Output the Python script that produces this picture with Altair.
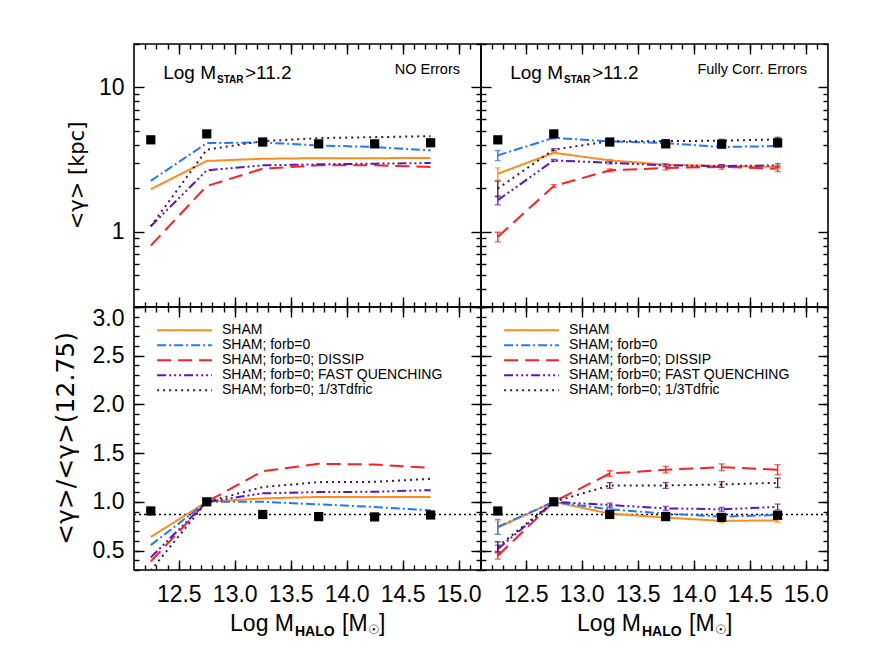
import altair as alt
import pandas as pd
import numpy as np

# ---------------- data ----------------
LOG_MHALO = [12.25, 12.75, 13.25, 13.75, 14.25, 14.75]
SERIES = ["SHAM", "SHAM; forb=0", "SHAM; forb=0; DISSIP",
          "SHAM; forb=0; FAST QUENCHING", "SHAM; forb=0; 1/3Tdfric"]

# top-left: <gamma> [kpc], NO Errors
TL_SHAM = [1.97, 3.09, 3.20, 3.23, 3.23, 3.24]
TL_FORB0 = [2.25, 4.11, 4.15, 3.96, 3.86, 3.66]
TL_DISSIP = [0.80, 2.07, 2.73, 2.88, 2.88, 2.81]
TL_FASTQ = [1.09, 2.66, 2.88, 2.93, 2.96, 2.99]
TL_TDFRIC = [1.09, 3.70, 4.24, 4.45, 4.52, 4.59]
TL_OBS = [4.33, 4.76, 4.18, 4.06, 4.06, 4.13]

# top-right: <gamma> [kpc], Fully Corr. Errors
TR_SHAM = [2.52, 3.52, 3.12, 2.91, 2.85, 2.81]
TR_FORB0 = [3.38, 4.47, 4.22, 4.11, 3.86, 3.92]
TR_DISSIP = [0.92, 2.07, 2.66, 2.76, 2.81, 2.73]
TR_FASTQ = [1.65, 3.12, 3.00, 2.88, 2.85, 2.88]
TR_TDFRIC = [1.99, 3.70, 4.24, 4.24, 4.27, 4.36]
TR_OBS = [4.33, 4.76, 4.18, 4.06, 4.04, 4.13]
TR_ERR_SHAM = [0.25, 0.05, 0.05, 0.05, 0.06, 0.06]
TR_ERR_FORB0 = [0.27, 0.08, 0.05, 0.05, 0.06, 0.08]
TR_ERR_DISSIP = [0.07, 0.05, 0.06, 0.08, 0.10, 0.12]
TR_ERR_FASTQ = [0.12, 0.05, 0.05, 0.06, 0.06, 0.08]
TR_ERR_TDFRIC = [0.25, 0.06, 0.08, 0.10, 0.10, 0.15]

# bottom-left: ratio to 12.75, NO Errors
BL_SHAM = [0.64, 1.0, 1.035, 1.05, 1.05, 1.05]
BL_FORB0 = [0.555, 1.0, 1.0, 0.974, 0.947, 0.913]
BL_DISSIP = [0.388, 1.0, 1.315, 1.39, 1.383, 1.348]
BL_FASTQ = [0.43, 1.0, 1.087, 1.10, 1.103, 1.12]
BL_TDFRIC = [0.295, 1.0, 1.151, 1.202, 1.205, 1.236]
BL_OBS = [0.906, 1.0, 0.87, 0.848, 0.845, 0.865]

# bottom-right: ratio to 12.75, Fully Corr. Errors
BR_SHAM = [0.735, 1.0, 0.879, 0.838, 0.804, 0.81]
BR_FORB0 = [0.743, 1.0, 0.923, 0.879, 0.848, 0.865]
BR_DISSIP = [0.446, 1.0, 1.29, 1.33, 1.355, 1.33]
BR_FASTQ = [0.515, 1.0, 0.967, 0.933, 0.923, 0.947]
BR_TDFRIC = [0.54, 1.0, 1.168, 1.168, 1.178, 1.195]
BR_OBS = [0.906, 1.0, 0.87, 0.848, 0.84, 0.862]
BR_ERR_SHAM = [0.07, 0.0, 0.02, 0.02, 0.02, 0.02]
BR_ERR_FORB0 = [0.077, 0.0, 0.015, 0.015, 0.015, 0.015]
BR_ERR_DISSIP = [0.034, 0.0, 0.029, 0.034, 0.034, 0.051]
BR_ERR_FASTQ = [0.04, 0.0, 0.02, 0.02, 0.02, 0.03]
BR_ERR_TDFRIC = [0.05, 0.0, 0.03, 0.03, 0.03, 0.048]

REF_RATIO = 0.87

X_MAJOR = [12.5, 13.0, 13.5, 14.0, 14.5, 15.0]
YTOP_MAJOR = [1, 10]
YBOT_MAJOR = [0.5, 1.0, 1.5, 2.0, 2.5, 3.0]

# ---------------- styling ----------------
COLORS = ["#ff8c1a", "#1f78ff", "#ff1f1f", "#5a14c8", "#4a1040"]
DASHES = [[1, 0], [9, 3, 2, 3], [14, 7], [9, 3, 2, 3, 2, 3, 2, 3], [2, 4]]
FONT = "Liberation Sans"
W, H = 347, 263

X_MINOR = [round(v, 1) for v in np.arange(12.2, 15.15, 0.1)]
YTOP_MINOR = [0.3, 0.4, 0.5, 0.6, 0.7, 0.8, 0.9, 2, 3, 4, 5, 6, 7, 8, 9, 20]
YBOT_MINOR = [round(v, 1) for v in np.arange(0.3, 3.05, 0.1)]

XSCALE = alt.Scale(domain=[12.1, 15.2], nice=False, zero=False)
YTOP = alt.Scale(type="log", domain=[0.3, 20], nice=False)
YBOT = alt.Scale(domain=[0.3, 3.0], nice=False, zero=False)
CSCALE = alt.Scale(domain=SERIES, range=COLORS)
DSCALE = alt.Scale(domain=SERIES, range=DASHES)

ONE = pd.DataFrame({"k": [0]})


def tick_axis(orient, values, size, offset):
    return alt.Axis(orient=orient, values=values, tickSize=size, labels=False,
                    domain=False, grid=False, title=None, tickColor="black",
                    tickWidth=1.4, offset=offset)


def label_axis(orient, values, fmt, pad, flush=False):
    return alt.Axis(orient=orient, values=values, format=fmt, ticks=False,
                    domain=False, grid=False, title=None, labelFont=FONT,
                    labelFontSize=23, labelColor="black", labelPadding=pad,
                    labelFlush=flush, labelOverlap=False)


def make_df(values):
    rows = []
    for s, ys in zip(SERIES, values):
        for x, y in zip(LOG_MHALO, ys):
            rows.append({"x": x, "y": y, "series": s})
    return pd.DataFrame(rows)


def make_err_df(values, errs):
    rows = []
    for s, ys, es in zip(SERIES, values, errs):
        for x, y, e in zip(LOG_MHALO, ys, es):
            if e > 0:
                rows.append({"x": x, "lo": y - e, "hi": y + e, "series": s})
    return pd.DataFrame(rows)


def text(txt, x, y, size, align="left", baseline="alphabetic", bold=False,
         font=FONT, angle=None):
    kw = dict(text=txt, fontSize=size, font=font, align=align,
              baseline=baseline, color="black",
              fontWeight="bold" if bold else "normal")
    if angle is not None:
        kw["angle"] = angle
    return alt.Chart(ONE).mark_text(**kw).encode(x=alt.value(x), y=alt.value(y))


def panel(values, obs, yscale, is_top, is_left, errs=None, note=""):
    df = make_df(values)
    ymaj = YTOP_MAJOR if is_top else YBOT_MAJOR
    ymin = YTOP_MINOR if is_top else YBOT_MINOR
    layers = []

    def ax_layer(xax, yax):
        return alt.Chart(df).mark_point(opacity=0).encode(
            x=alt.X("x:Q", scale=XSCALE, axis=xax),
            y=alt.Y("y:Q", scale=yscale, axis=yax))

    # labelled axes
    xl = None if is_top else label_axis("bottom", X_MAJOR, ".1f", 13)
    yl = None
    if is_left:
        yl = label_axis("left", ymaj, ".0f" if is_top else ".1f", 10,
                        flush=not is_top)
    if xl is not None or yl is not None:
        layers.append(ax_layer(xl, yl))
    # inward ticks on all four edges
    layers.append(ax_layer(tick_axis("top", X_MAJOR, 10, -H),
                           tick_axis("right", ymaj, 10, -W)))
    layers.append(ax_layer(tick_axis("top", X_MINOR, 5, -H),
                           tick_axis("right", ymin, 5, -W)))
    layers.append(ax_layer(tick_axis("bottom", X_MAJOR, 10, -H),
                           tick_axis("left", ymaj, 10, -W)))
    layers.append(ax_layer(tick_axis("bottom", X_MINOR, 5, -H),
                           tick_axis("left", ymin, 5, -W)))

    if not is_top:
        layers.append(
            alt.Chart(pd.DataFrame({"level": [REF_RATIO]}))
            .mark_rule(color="black", strokeDash=[2, 3], strokeWidth=1.4)
            .encode(y=alt.Y("level:Q", scale=yscale, axis=None)))

    legend = None
    if not is_top:
        legend = alt.Legend(orient="none", legendX=22, legendY=16, title=None,
                            symbolType="stroke", symbolSize=3000,
                            symbolStrokeWidth=2, labelFont=FONT,
                            labelFontSize=14, labelColor="black",
                            labelOffset=9, rowPadding=0, clipHeight=14.4,
                            labelLimit=500, padding=0)

    layers.append(
        alt.Chart(df).mark_line(strokeWidth=2, clip=True).encode(
            x=alt.X("x:Q", scale=XSCALE, axis=None),
            y=alt.Y("y:Q", scale=yscale, axis=None),
            color=alt.Color("series:N", scale=CSCALE, legend=legend, sort=SERIES),
            strokeDash=alt.StrokeDash("series:N", scale=DSCALE, legend=legend,
                                      sort=SERIES),
            detail="series:N"))

    if errs is not None:
        edf = make_err_df(values, errs)
        enc = dict(x=alt.X("x:Q", scale=XSCALE, axis=None),
                   color=alt.Color("series:N", scale=CSCALE, legend=None))
        layers.append(alt.Chart(edf).mark_rule(strokeWidth=1.3).encode(
            y=alt.Y("lo:Q", scale=yscale, axis=None), y2="hi:Q", **enc))
        for f in ["lo", "hi"]:
            layers.append(alt.Chart(edf).mark_tick(
                orient="horizontal", size=6, thickness=1.3).encode(
                y=alt.Y(f + ":Q", scale=yscale, axis=None), **enc))

    odf = pd.DataFrame({"x": LOG_MHALO, "y": obs})
    layers.append(alt.Chart(odf).mark_square(size=85, color="black", opacity=1)
                  .encode(x=alt.X("x:Q", scale=XSCALE, axis=None),
                          y=alt.Y("y:Q", scale=yscale, axis=None)))

    if is_top:
        layers.append(text("Log M", 82, 35, 19, align="right"))
        layers.append(text("STAR", 83, 39, 10, bold=True))
        layers.append(text(">11.2", 111, 35, 19))
        layers.append(text(note, W - 21, 30, 14.5, align="right"))
    else:
        layers.append(text("Log M", 160, H + 61, 23, align="right"))
        layers.append(text("HALO", 161, H + 66, 14, bold=True))
        layers.append(text("[M", 208, H + 61, 23))
        layers.append(text("\u2609", 234, H + 64, 13, font="DejaVu Sans"))
        layers.append(text("]", 245, H + 61, 23))

    if is_left:
        if is_top:
            layers.append(text("<\u03b3> [kpc]", -56, H / 2, 21, align="center",
                               baseline="middle", font="DejaVu Sans", angle=270))
        else:
            layers.append(text("<\u03b3>/<\u03b3>(12.75)", -68, H / 2, 25,
                               align="center", baseline="middle",
                               font="DejaVu Sans", angle=270))

    return alt.layer(*layers).resolve_axis(x="independent", y="independent") \
        .properties(width=W, height=H)


tl = panel([TL_SHAM, TL_FORB0, TL_DISSIP, TL_FASTQ, TL_TDFRIC], TL_OBS, YTOP,
           True, True, note="NO Errors")
tr = panel([TR_SHAM, TR_FORB0, TR_DISSIP, TR_FASTQ, TR_TDFRIC], TR_OBS, YTOP,
           True, False,
           errs=[TR_ERR_SHAM, TR_ERR_FORB0, TR_ERR_DISSIP, TR_ERR_FASTQ,
                 TR_ERR_TDFRIC],
           note="Fully Corr. Errors")
bl = panel([BL_SHAM, BL_FORB0, BL_DISSIP, BL_FASTQ, BL_TDFRIC], BL_OBS, YBOT,
           False, True)
br = panel([BR_SHAM, BR_FORB0, BR_DISSIP, BR_FASTQ, BR_TDFRIC], BR_OBS, YBOT,
           False, False,
           errs=[BR_ERR_SHAM, BR_ERR_FORB0, BR_ERR_DISSIP, BR_ERR_FASTQ,
                 BR_ERR_TDFRIC])

chart = (
    alt.concat(tl, tr, bl, br, columns=2, spacing=0, bounds="flush")
    .resolve_legend(color="independent", strokeDash="independent")
    .configure(padding={"left": 45, "top": 34, "right": 8, "bottom": 5},
               background="white")
    .configure_view(stroke="black", strokeWidth=1.6)
)

chart.save("out.html", embed_options={"renderer": "svg", "actions": False})
